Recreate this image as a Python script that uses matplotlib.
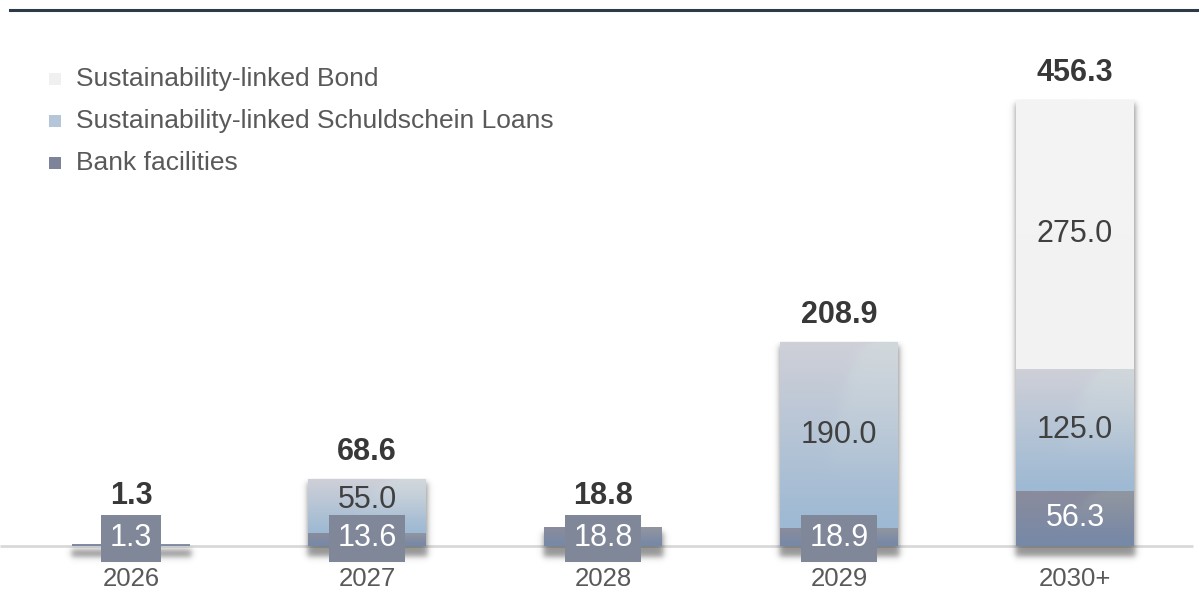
import numpy as np
import matplotlib
matplotlib.use("Agg")
import matplotlib.pyplot as plt
from matplotlib.colors import to_rgb
from matplotlib.lines import Line2D
from matplotlib.patches import Rectangle

# Maturity profile (EUR m)
years = ["2026", "2027", "2028", "2029", "2030+"]
bank_facilities = [1.3, 13.6, 18.8, 18.9, 56.3]
schuldschein = [0.0, 55.0, 0.0, 190.0, 125.0]
bond = [0.0, 0.0, 0.0, 0.0, 275.0]
totals = [1.3, 68.6, 18.8, 208.9, 456.3]

series_names = ["Sustainability-linked Bond",
                "Sustainability-linked Schuldschein Loans",
                "Bank facilities"]

plt.rcParams["font.family"] = ["Liberation Sans", "DejaVu Sans"]

W, H = 1199, 590
fig = plt.figure(figsize=(W / 100, H / 100), dpi=100)
ax = fig.add_axes([0, 0, 1, 1])
ax.set_axis_off()

px_per_unit = 0.9774          # vertical scale
px_per_cat = 236.0            # horizontal scale
x_lo, x_hi = -131 / px_per_cat, (W - 131) / px_per_cat
y_lo, y_hi = -44 / px_per_unit, 546 / px_per_unit
bar_w = 0.5


def py(n):
    return n / px_per_unit


def pxx(n):
    return n / px_per_cat


def gradient(x0, y0, w, h, top, bottom, z, sheen=None):
    t = np.linspace(0, 1, 96)[:, None, None]
    c_top = np.array(to_rgb(top))
    c_bot = np.array(to_rgb(bottom))
    img = (1 - t) * c_top + t * c_bot
    img = np.repeat(img, 64, axis=1)
    if sheen is not None:
        v = np.linspace(0, 1, 96)[:, None]
        u = np.linspace(0, 1, 64)[None, :]
        edge = 0.78 - 0.35 * np.sqrt(v / 0.6)
        a = 1 / (1 + np.exp(-(u - edge) / 0.03))
        a *= np.clip(1 - v / 0.75, 0, 1) * 0.4
        c = np.array(to_rgb(sheen))
        img = img * (1 - a[..., None]) + c * a[..., None]
    ax.imshow(img, extent=(x0, x0 + w, y0, y0 + h), origin="upper",
              aspect="auto", interpolation="bilinear", zorder=z)


def soft_step(d, s):
    return 0.5 * (1 + np.tanh(d / s))


def shadow(x0, w, top):
    # soft drop shadow behind a bar, built in pixel units
    wp = w * px_per_cat
    tp = top * px_per_unit
    margin = 16
    nx = int(wp + 2 * margin)
    ny = int(tp + margin + 8)
    xs = np.arange(nx)[None, :] - margin
    ys = tp - np.arange(ny)[:, None] + 0.0
    s = 3.5
    ax_h = soft_step(xs + 1, s) * soft_step(wp + 1 - xs, s)
    ax_v = soft_step(ys + 10, s) * soft_step(tp - 4 - ys, s)
    alpha = 0.52 * ax_h * ax_v
    img = np.zeros((ny, nx, 4))
    img[..., :3] = to_rgb("#333333")
    img[..., 3] = alpha
    ax.imshow(img, extent=(x0 - pxx(margin), x0 + w + pxx(margin),
                           top - py(ny), top), origin="upper",
              aspect="auto", interpolation="bilinear", zorder=1)


# baseline
ax.plot([x_lo, 4.50], [0, 0], color="#d9d9d9", lw=2, zorder=0.5,
        solid_capstyle="butt")

value_color = "#404040"
for i, yr in enumerate(years):
    x0 = i - bar_w / 2
    shadow(x0, bar_w, totals[i])
    b, s, d = bank_facilities[i], schuldschein[i], bond[i]
    gradient(x0, 0, bar_w, b, "#8b8c9c", "#7689a8", 3, sheen="#9aa8a8")
    if s > 0:
        gradient(x0, b, bar_w, s, "#cfd0d8", "#9db9d3", 3, sheen="#d4e4e2")
    if d > 0:
        gradient(x0, b + s, bar_w, d, "#f4f4f4", "#f2f2f2", 3)

    # bank facilities label
    if b < 40:
        ax.text(i, 8, f"{b:.1f}", ha="center", va="center", fontsize=22,
                color="white", zorder=6,
                bbox=dict(boxstyle="square,pad=0.28", fc="#7f8799",
                          ec="none"))
    else:
        ax.text(i, b / 2, f"{b:.1f}", ha="center", va="center", fontsize=22,
                color="white", zorder=6)
    if s > 0:
        yc = b + s / 2 + (py(6) if s < 80 else 0)
        ax.text(i, yc, f"{s:.1f}", ha="center", va="center", fontsize=22,
                color=value_color, zorder=6)
    if d > 0:
        ax.text(i, b + s + d / 2, f"{d:.1f}", ha="center", va="center",
                fontsize=22, color=value_color, zorder=6)

    # total on top
    ax.text(i, max(totals[i], 24) + py(27), f"{totals[i]:.1f}", ha="center",
            va="center", fontsize=22, fontweight="bold", color="#383838",
            zorder=6)
    # category label
    ax.text(i, -py(33), yr, ha="center", va="center", fontsize=18.5,
            color="#595959", zorder=6)

ax.set_xlim(x_lo, x_hi)
ax.set_ylim(y_lo, y_hi)

# top rule
fig.add_artist(Line2D([10 / W, 1.0], [1 - 10 / H, 1 - 10 / H],
                      color="#2d3b49", lw=2.2, transform=fig.transFigure))

# legend
swatches = ["#f0f0f0", "#b4c6d8", "#7d8499"]
rows_y = [79, 121, 163]
for name, col, yp in zip(series_names, swatches, rows_y):
    fig.add_artist(Rectangle((49 / W, 1 - (yp + 6) / H), 12 / W, 12 / H,
                             transform=fig.transFigure, fc=col, ec="none"))
    fig.text(76 / W, 1 - yp / H, name, ha="left", va="center", fontsize=19,
             color="#595959")

fig.savefig("out.png", dpi=100)
